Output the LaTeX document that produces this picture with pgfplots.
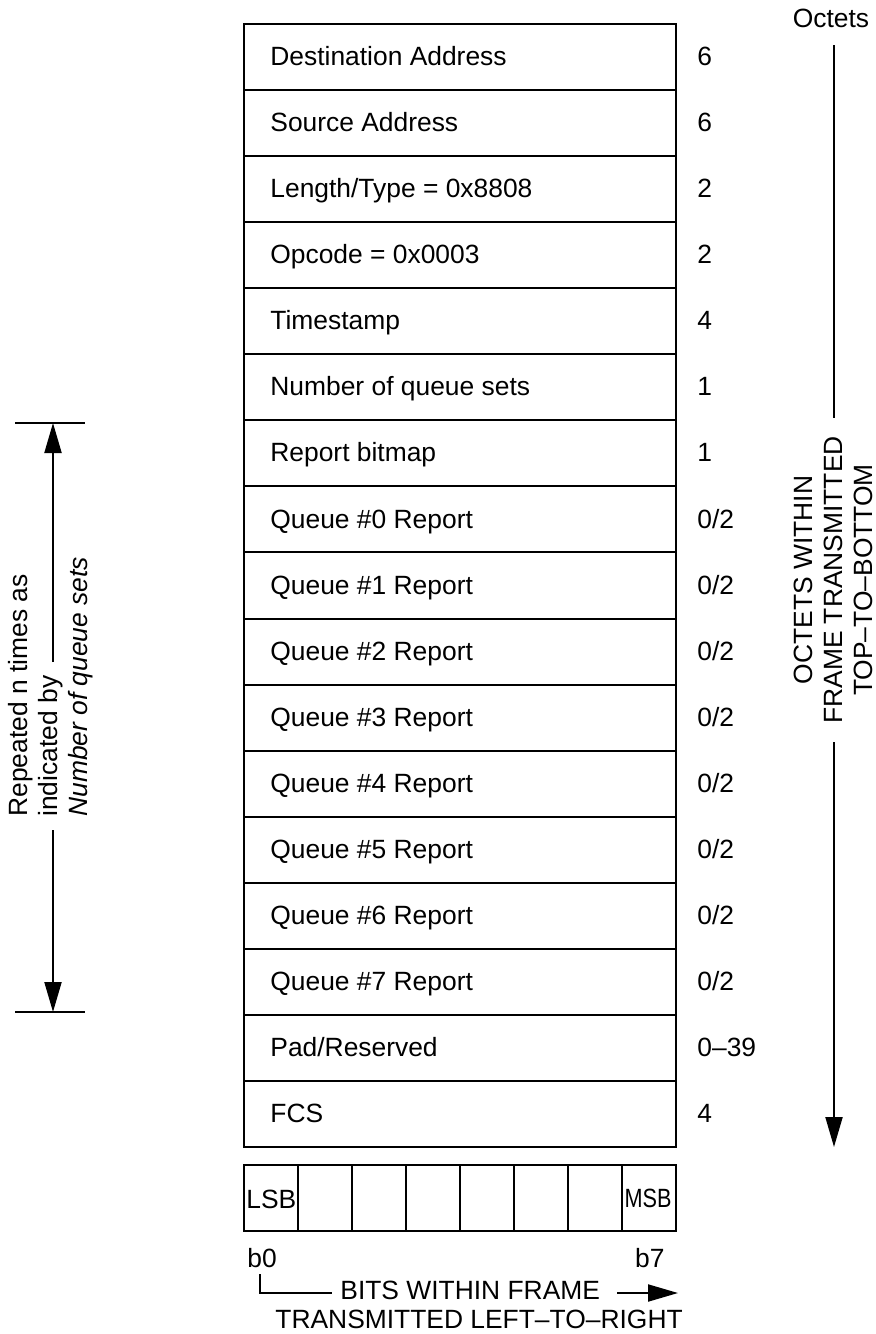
\documentclass[border=0pt]{standalone}
\usepackage{pgfplots}
\pgfplotsset{compat=1.18}
\usepackage{graphicx}
\usepackage{fontspec}
\setmainfont{Liberation Sans}
\usetikzlibrary{arrows.meta}
\begin{document}
\begin{tikzpicture}[font=\fontsize{13.2}{15}\selectfont]
\begin{axis}[width=437.5pt,height=667pt,scale only axis,
  xmin=0,xmax=875,ymin=0,ymax=1334,y dir=reverse,hide axis,clip=false]
\path (axis cs:0,0) rectangle (axis cs:875,1334);
% main frame
\draw[line width=1pt] (axis cs:244,24) rectangle (axis cs:676,1147);
\pgfplotsinvokeforeach{1,...,16}{
  \draw[line width=1pt] (axis cs:244,{24+66.06*#1}) -- (axis cs:676,{24+66.06*#1});
}
% row labels
\node[anchor=base west,inner sep=0pt] at (axis cs:270,65.5) {Destination Address};
\node[anchor=base west,inner sep=0pt] at (axis cs:270,131.6) {Source Address};
\node[anchor=base west,inner sep=0pt] at (axis cs:270,197.7) {Length/Type = 0x8808};
\node[anchor=base west,inner sep=0pt] at (axis cs:270,263.7) {Opcode = 0x0003};
\node[anchor=base west,inner sep=0pt] at (axis cs:270,329.8) {Timestamp};
\node[anchor=base west,inner sep=0pt] at (axis cs:270,395.8) {Number of queue sets};
\node[anchor=base west,inner sep=0pt] at (axis cs:270,461.9) {Report bitmap};
\node[anchor=base west,inner sep=0pt] at (axis cs:270,528.0) {Queue \#0 Report};
\node[anchor=base west,inner sep=0pt] at (axis cs:270,594.0) {Queue \#1 Report};
\node[anchor=base west,inner sep=0pt] at (axis cs:270,660.1) {Queue \#2 Report};
\node[anchor=base west,inner sep=0pt] at (axis cs:270,726.1) {Queue \#3 Report};
\node[anchor=base west,inner sep=0pt] at (axis cs:270,792.2) {Queue \#4 Report};
\node[anchor=base west,inner sep=0pt] at (axis cs:270,858.2) {Queue \#5 Report};
\node[anchor=base west,inner sep=0pt] at (axis cs:270,924.3) {Queue \#6 Report};
\node[anchor=base west,inner sep=0pt] at (axis cs:270,990.4) {Queue \#7 Report};
\node[anchor=base west,inner sep=0pt] at (axis cs:270,1056.4) {Pad/Reserved};
\node[anchor=base west,inner sep=0pt] at (axis cs:270,1122.5) {FCS};
% octets
\node[anchor=base west,inner sep=0pt] at (axis cs:697,65.5) {6};
\node[anchor=base west,inner sep=0pt] at (axis cs:697,131.6) {6};
\node[anchor=base west,inner sep=0pt] at (axis cs:697,197.7) {2};
\node[anchor=base west,inner sep=0pt] at (axis cs:697,263.7) {2};
\node[anchor=base west,inner sep=0pt] at (axis cs:697,329.8) {4};
\node[anchor=base west,inner sep=0pt] at (axis cs:697,395.8) {1};
\node[anchor=base west,inner sep=0pt] at (axis cs:697,461.9) {1};
\node[anchor=base west,inner sep=0pt] at (axis cs:697,528.0) {0/2};
\node[anchor=base west,inner sep=0pt] at (axis cs:697,594.0) {0/2};
\node[anchor=base west,inner sep=0pt] at (axis cs:697,660.1) {0/2};
\node[anchor=base west,inner sep=0pt] at (axis cs:697,726.1) {0/2};
\node[anchor=base west,inner sep=0pt] at (axis cs:697,792.2) {0/2};
\node[anchor=base west,inner sep=0pt] at (axis cs:697,858.2) {0/2};
\node[anchor=base west,inner sep=0pt] at (axis cs:697,924.3) {0/2};
\node[anchor=base west,inner sep=0pt] at (axis cs:697,990.4) {0/2};
\node[anchor=base west,inner sep=0pt] at (axis cs:697,1056.4) {0--39};
\node[anchor=base west,inner sep=0pt] at (axis cs:697,1122.5) {4};
% bits row
\draw[line width=1pt] (axis cs:244,1165) rectangle (axis cs:676,1231);
\pgfplotsinvokeforeach{1,...,7}{
  \draw[line width=1pt] (axis cs:{244+54*#1},1165) -- (axis cs:{244+54*#1},1231);
}
\node[anchor=base west,inner sep=0pt] at (axis cs:246,1208) {LSB};
\node[anchor=base east,inner sep=0pt] at (axis cs:672,1207) {\scalebox{0.82}[1]{MSB}};
\node[anchor=base west,inner sep=0pt] at (axis cs:247,1267) {b0};
\node[anchor=base east,inner sep=0pt] at (axis cs:665,1267) {b7};
\draw[line width=1pt] (axis cs:260,1274) -- (axis cs:260,1293) -- (axis cs:332,1293);
\node[anchor=base west,inner sep=0pt] at (axis cs:340,1299) {BITS WITHIN FRAME};
\draw[line width=1pt,-{Triangle[length=15pt,width=8.5pt]}] (axis cs:617,1293) -- (axis cs:678,1293);
\node[anchor=base west,inner sep=0pt] at (axis cs:275,1328) {TRANSMITTED LEFT--TO--RIGHT};
% right side
\node[anchor=base,inner sep=0pt] at (axis cs:831,27) {Octets};
\draw[line width=1pt] (axis cs:834,45) -- (axis cs:834,418);
\node[rotate=90,align=center,inner sep=0pt,anchor=center] at (axis cs:833,580) {OCTETS WITHIN\\FRAME TRANSMITTED\\TOP--TO--BOTTOM};
\draw[line width=1pt,-{Triangle[length=15pt,width=8.5pt]}] (axis cs:834,742) -- (axis cs:834,1147);
% left side
\draw[line width=1pt] (axis cs:15,423) -- (axis cs:85,423);
\draw[line width=1pt] (axis cs:15,1012) -- (axis cs:85,1012);
\draw[line width=1pt,-{Triangle[length=15pt,width=8.5pt]}] (axis cs:53,662) -- (axis cs:53,423);
\draw[line width=1pt,-{Triangle[length=15pt,width=8.5pt]}] (axis cs:53,830) -- (axis cs:53,1012);
\node[rotate=90,align=left,inner sep=0pt,anchor=west] at (axis cs:51,817) {Repeated n times as\\indicated by\\\textit{Number of queue sets}};
\end{axis}
\end{tikzpicture}
\end{document}
